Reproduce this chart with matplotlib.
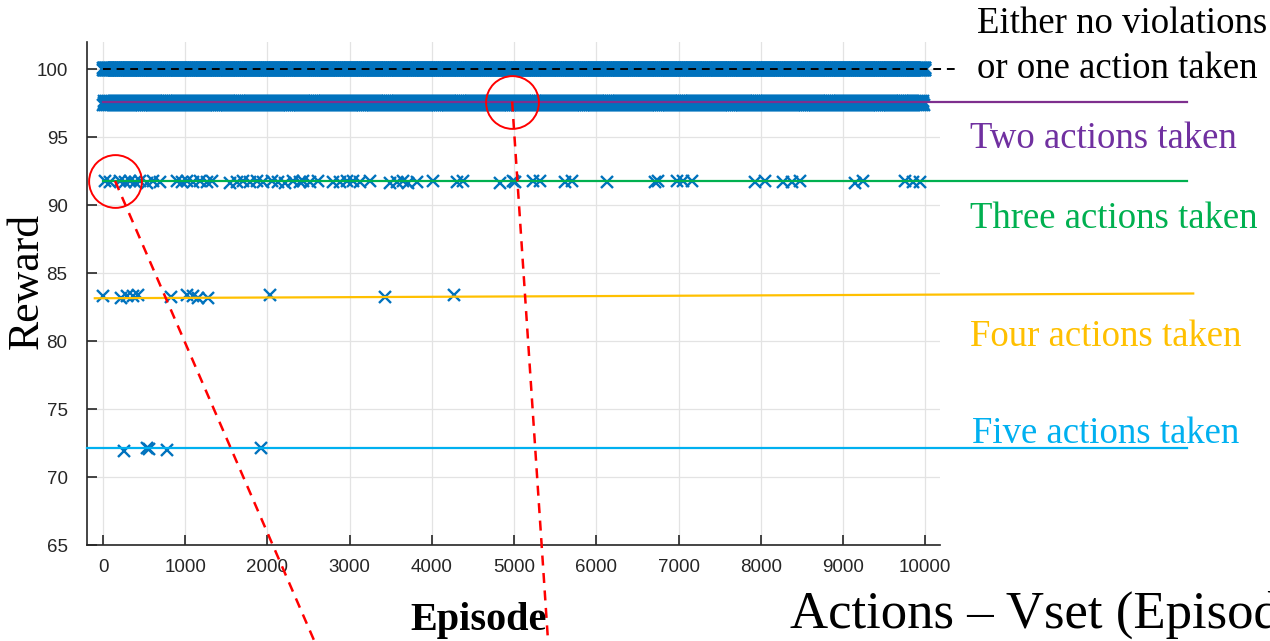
import numpy as np
import matplotlib
matplotlib.use("Agg")
import matplotlib.pyplot as plt

# ── Data ──────────────────────────────────────────────────────
# dense bands: episode span + the reward levels they are spread over
no_action_span     = (0, 10000)
no_action_levels   = [99.95, 100.1]
two_action_span    = (0, 9990)
two_action_levels  = [97.38, 97.52, 97.66]

three_action_ep = [24, 85, 207, 268, 328, 389, 450, 535, 608, 693, 900, 961,
                   1022, 1095, 1180, 1265, 1326, 1545, 1630, 1703, 1788, 1873,
                   1946, 2056, 2129, 2214, 2311, 2397, 2433, 2518, 2616, 2798,
                   2883, 2968, 3041, 3127, 3248, 3491, 3577, 3650, 3710, 3820,
                   4015, 4307, 4380, 4830, 4988, 5012, 5231, 5316, 5620, 5706,
                   6131, 6715, 6752, 6983, 7056, 7165, 7932, 8054, 8273, 8382,
                   8479, 9148, 9246, 9757, 9854, 9939]
three_action_r  = [91.75, 91.7, 91.8, 91.7, 91.75, 91.7, 91.8, 91.65, 91.75,
                   91.7, 91.75, 91.7, 91.8, 91.7, 91.75, 91.7, 91.8, 91.65,
                   91.7, 91.75, 91.7, 91.8, 91.7, 91.75, 91.7, 91.65, 91.75,
                   91.7, 91.8, 91.7, 91.75, 91.7, 91.7, 91.75, 91.8, 91.7,
                   91.75, 91.65, 91.7, 91.75, 91.6, 91.7, 91.75, 91.7, 91.8,
                   91.6, 91.75, 91.7, 91.8, 91.75, 91.7, 91.75, 91.7, 91.7,
                   91.8, 91.75, 91.8, 91.75, 91.7, 91.75, 91.7, 91.7, 91.75,
                   91.6, 91.75, 91.75, 91.7, 91.7]

four_action_ep = [0, 219, 292, 365, 426, 827, 1022, 1095, 1156, 1277, 2032,
                  3431, 4270]
four_action_r  = [83.3, 83.2, 83.3, 83.35, 83.4, 83.25, 83.4, 83.3, 83.2,
                  83.15, 83.4, 83.25, 83.4]

five_action_ep = [255, 535, 560, 779, 1922]
five_action_r  = [71.9, 72.1, 72.05, 72.0, 72.1]

# reference levels (start/end episode, start/end reward)
ref_lines = {
    "none":  ([0, 10400],     [100.05, 100.05]),
    "two":   ([0, 13190],     [97.58, 97.58]),
    "three": ([0, 13190],     [91.75, 91.75]),
    "four":  ([-100, 13260],  [83.15, 83.5]),
    "five":  ([-195, 13190],  [72.12, 72.12]),
}

# highlighted episodes (circle centre) and where the callout lines leave the page
highlights = [((146, 91.78), (2580, 57.8)),
              ((4976, 97.62), (5414, 57.8))]

x_ticks = np.arange(0, 10001, 1000)
y_ticks = np.arange(65, 101, 5)

# ── Style ─────────────────────────────────────────────────────
BLUE   = "#0072BD"
PURPLE = "#7E2F8E"
GREEN  = "#00B050"
YELLOW = "#FFC000"
CYAN   = "#00B0F0"
AXCOL  = "#262626"
SERIF  = ["Liberation Serif", "DejaVu Serif"]

W, H = 1270, 641
fig = plt.figure(figsize=(W / 100, H / 100), dpi=100)
ax = fig.add_axes([87 / W, 1 - 545 / H, (940 - 87) / W, (545 - 42) / H])


def px(x, y):
    """pixel (from top-left) -> figure fraction"""
    return x / W, 1 - y / H


# grid + axes
ax.set_xlim(-195, 10180)
ax.set_ylim(65, 102)
ax.set_xticks(x_ticks)
ax.set_yticks(y_ticks)
ax.grid(True, color="#e3e3e3", lw=0.9)
ax.set_axisbelow(True)
for side in ("top", "right"):
    ax.spines[side].set_visible(False)
for side in ("left", "bottom"):
    ax.spines[side].set_color(AXCOL)
    ax.spines[side].set_linewidth(1.2)
ax.tick_params(direction="in", length=7, width=1.2, color=AXCOL,
               labelcolor=AXCOL, labelsize=13.5)
ax.tick_params(axis="y", pad=14)
ax.tick_params(axis="x", pad=10)
for lab in ax.get_xticklabels() + ax.get_yticklabels():
    lab.set_fontfamily(["Liberation Sans", "DejaVu Sans"])

mk = dict(marker="x", ls="none", color=BLUE, ms=8.5, mew=1.7, zorder=3)

# dense bands
band_x = np.arange(no_action_span[0], no_action_span[1] + 1, 8)
for lvl in no_action_levels:
    ax.plot(band_x, np.full_like(band_x, lvl, dtype=float), **mk)
band_x = np.arange(two_action_span[0], two_action_span[1] + 1, 8)
for i, lvl in enumerate(two_action_levels):
    ax.plot(band_x[i::3], np.full(len(band_x[i::3]), lvl), **mk)

# sparse rows
ax.plot(three_action_ep, three_action_r, **mk)
ax.plot(four_action_ep, four_action_r, **mk)
ax.plot(five_action_ep, five_action_r, **mk)

# reference lines (run past the axes)
ax.plot(*ref_lines["none"], color="black", ls=(0, (4, 3)), lw=1.4,
        clip_on=False, zorder=4)
ax.plot(*ref_lines["two"], color=PURPLE, lw=1.6, clip_on=False, zorder=4)
ax.plot(*ref_lines["three"], color=GREEN, lw=1.6, clip_on=False, zorder=4)
ax.plot(*ref_lines["four"], color=YELLOW, lw=1.6, clip_on=False, zorder=4)
ax.plot(*ref_lines["five"], color=CYAN, lw=1.6, clip_on=False, zorder=4)

# red call-outs
for (cx, cy), (ex, ey) in highlights:
    ax.plot([cx], [cy], marker="o", ms=38, mfc="none", mec="red", mew=1.4,
            clip_on=False, zorder=5)
    ax.plot([cx, ex], [cy, ey], color="red", ls=(0, (4, 3)), lw=1.8,
            clip_on=False, zorder=5)

# labels on the right
fig.text(*px(977, 33), "Either no violations", family=SERIF, size=26.5)
fig.text(*px(977, 78), "or one action taken", family=SERIF, size=26.5)
fig.text(*px(970, 148), "Two actions taken", family=SERIF, size=26.5,
         color="#7030A0")
fig.text(*px(970, 228), "Three actions taken", family=SERIF, size=26.5,
         color=GREEN)
fig.text(*px(970, 346), "Four actions taken", family=SERIF, size=26.5,
         color=YELLOW)
fig.text(*px(972, 443), "Five actions taken", family=SERIF, size=26.5,
         color=CYAN)

# axis titles
fig.text(*px(27, 281), "Reward", family=SERIF, size=31.5, rotation=90,
         ha="center", va="center")
fig.text(*px(479, 630), "Episode", family=SERIF, size=29, weight="bold",
         ha="center")
fig.text(*px(790, 628), "Actions \u2013 Vset (Episode)", family=SERIF, size=38)

fig.savefig("out.png", dpi=100)
